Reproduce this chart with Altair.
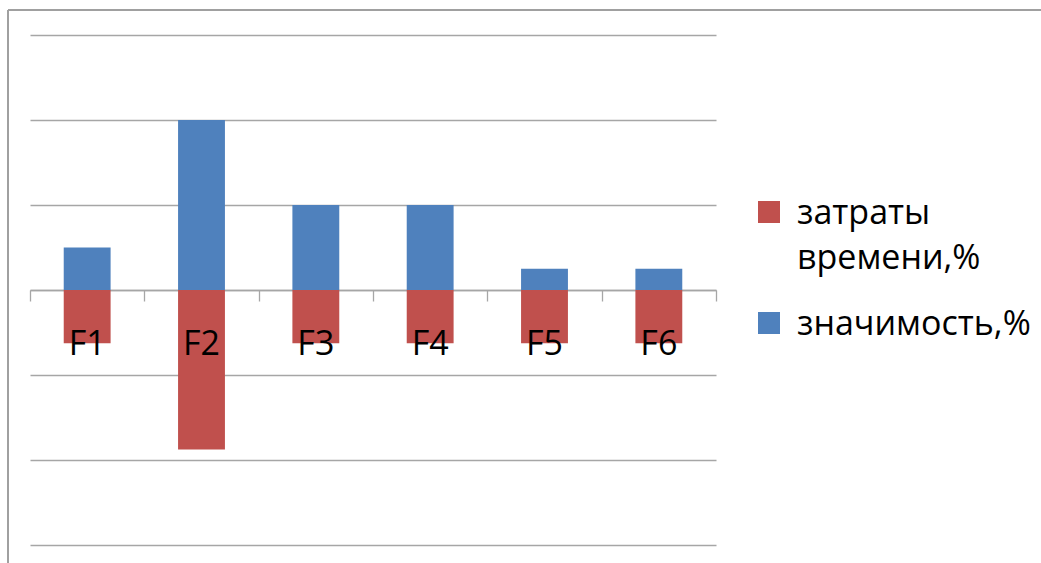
import altair as alt
import pandas as pd

categories = ["F1", "F2", "F3", "F4", "F5", "F6"]
znachimost = [5, 20, 10, 10, 2.5, 2.5]
zatraty = [-6.25, -18.75, -6.25, -6.25, -6.25, -6.25]
series_names = ["затраты времени,%", "значимость,%"]
series_colors = ["#C0504D", "#4F81BD"]
y_ticks = [-30, -20, -10, 0, 10, 20, 30]

rows = []
for c, v in zip(categories, zatraty):
    rows.append({"cat": c, "series": series_names[0], "value": v})
for c, v in zip(categories, znachimost):
    rows.append({"cat": c, "series": series_names[1], "value": v})
df = pd.DataFrame(rows)
cat_df = pd.DataFrame({"cat": categories})

FONT = "Open Sans"
GRID = "#a6a6a6"

x_scale = alt.Scale(domain=categories, paddingInner=0, paddingOuter=0)
y_scale = alt.Scale(domain=[-30, 30], nice=False, zero=False)

bars = alt.Chart(df).mark_bar(width=alt.RelativeBandSize(0.41)).encode(
    x=alt.X("cat:N", scale=x_scale, sort=categories,
            axis=alt.Axis(title=None, labels=False, tickBand="extent",
                          tickSize=11, tickColor=GRID, tickWidth=1.3,
                          domainColor=GRID, domainWidth=1.3,
                          offset=-255, grid=False)),
    y=alt.Y("value:Q", scale=y_scale, stack=None,
            axis=alt.Axis(title=None, labels=False, ticks=False, domain=False,
                          values=y_ticks, grid=True, gridColor=GRID,
                          gridWidth=1.3)),
    color=alt.Color("series:N",
                    scale=alt.Scale(domain=series_names, range=series_colors),
                    legend=alt.Legend(
                        title=None, orient="none", legendX=722, legendY=160,
                        symbolType="square", symbolSize=484,
                        symbolStrokeWidth=0, labelFont=FONT, labelFontSize=34,
                        labelColor="#000000", labelLimit=400, labelOffset=11,
                        rowPadding=30,
                        labelExpr="datum.label == 'затраты времени,%' ? ['затраты', 'времени,%'] : datum.label")),
)

labels = alt.Chart(cat_df).mark_text(
    font=FONT, fontSize=34, color="#000000", baseline="alphabetic", dy=65
).encode(
    x=alt.X("cat:N", scale=x_scale, sort=categories),
    y=alt.datum(0),
    text="cat:N",
)

frame_left = alt.Chart(cat_df).mark_rule(color="#a0a0a0", strokeWidth=1.5).encode(
    x=alt.value(-22), y=alt.value(-25), y2=alt.value(600)
)
frame_top = alt.Chart(cat_df).mark_rule(color="#a0a0a0", strokeWidth=1.5).encode(
    x=alt.value(-22), x2=alt.value(1100), y=alt.value(-25)
)

chart = alt.layer(frame_left, frame_top, bars, labels).properties(
    width=686, height=510,
    background="white",
    autosize=alt.AutoSizeParams(type="none"),
    padding={"left": 30, "top": 35, "right": 325, "bottom": 18},
).configure(
    view=alt.ViewConfig(strokeWidth=0, stroke="transparent"),
    style={"guide-label": {"lineHeight": 45, "dy": 2}},
)

chart.save("out.html", embed_options={"renderer": "svg", "actions": False})
